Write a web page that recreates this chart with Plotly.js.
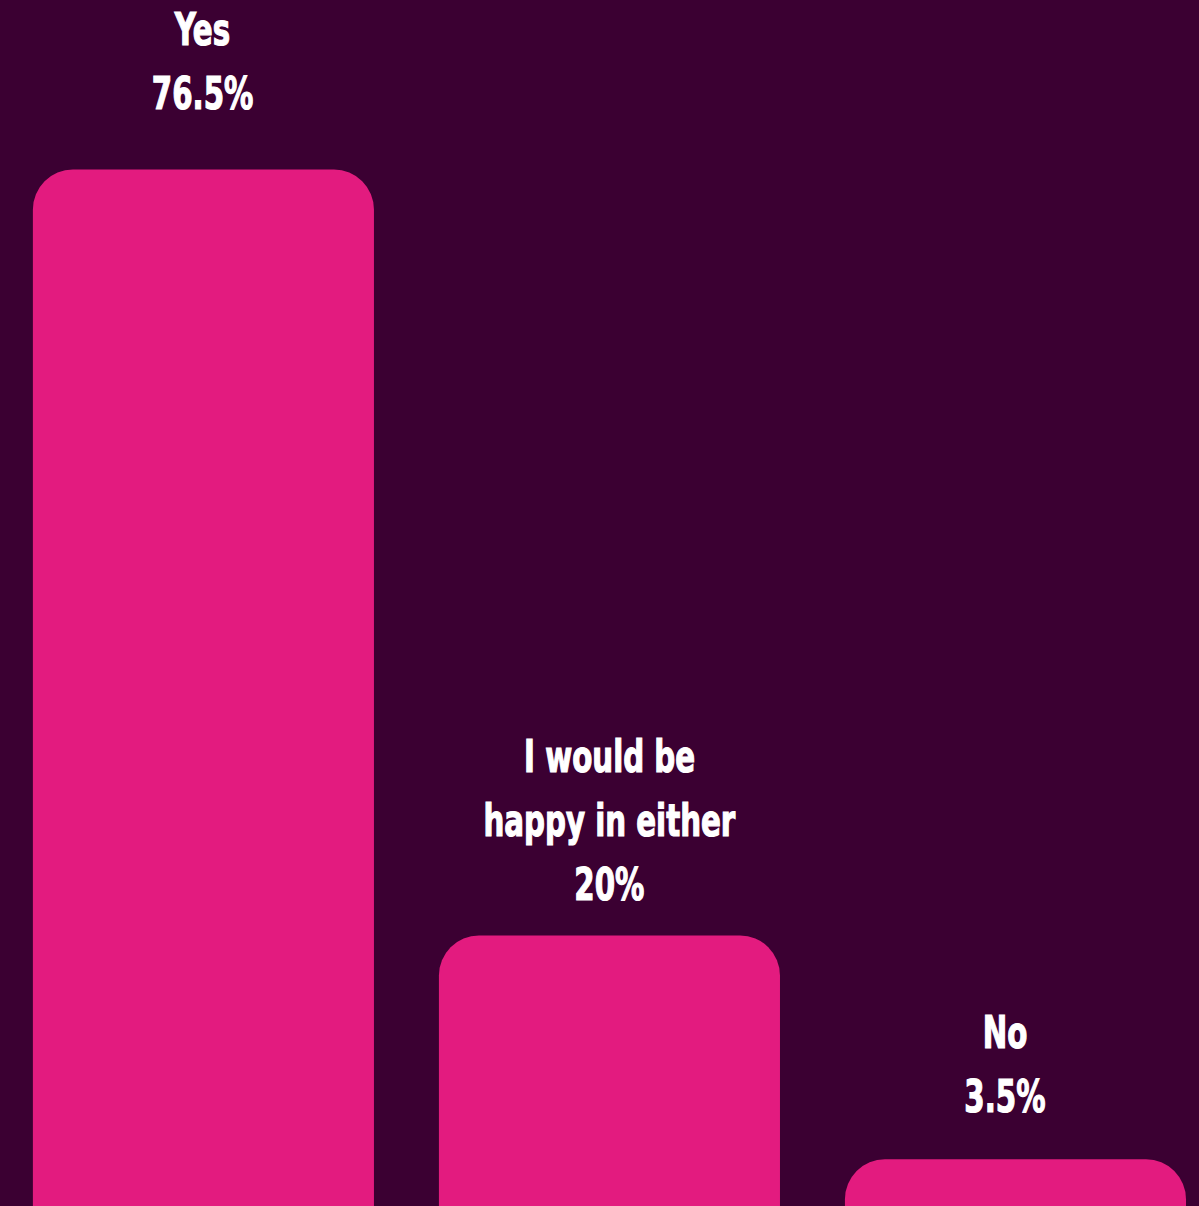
<!DOCTYPE html>
<html>
<head>
<meta charset="utf-8">
<script src="https://cdn.plot.ly/plotly-3.0.1.min.js"></script>
<style>
  html, body { margin: 0; padding: 0; background: #3b0032; }
  #chart { width: 1199px; height: 1206px; }
</style>
</head>
<body>
<div id="chart"></div>
<script>
// Data
const categories = ['Yes', 'I would be happy in either', 'No'];
const labelLines = [['Yes'], ['I would be', 'happy in either'], ['No']];
const values = [76.5, 20, 3.5];
const valueText = ['76.5%', '20%', '3.5%'];

// Styles
const bgColor = '#3b0032';
const barColor = '#e31b7f';
const fontFamily = '"DejaVu Sans Condensed", "Liberation Sans Narrow", "Arial Narrow", sans-serif';
const fontSize = 44;
const textScaleX = 0.74;          // horizontal compression to mimic a condensed display face
const textStroke = 1.2;           // extra weight
const lineStep = 64;              // px between label baselines
const labelGap = [59, 35, 46];    // px from bar top to last label baseline
const labelXShift = [-1, 0, -10];
const descentPad = 10;

const annotations = [];
categories.forEach((cat, i) => {
  const lines = labelLines[i].concat([valueText[i]]);
  const n = lines.length;
  lines.forEach((ln, j) => {
    annotations.push({
      x: cat,
      y: values[i],
      xref: 'x', yref: 'y',
      text: '<b>' + ln + '</b>',
      showarrow: false,
      xanchor: 'center',
      yanchor: 'bottom',
      xshift: labelXShift[i],
      yshift: labelGap[i] + (n - 1 - j) * lineStep - descentPad,
      borderpad: 0,
      font: { family: fontFamily, size: fontSize, color: '#ffffff' }
    });
  });
});

const trace = {
  type: 'bar',
  x: categories,
  y: values,
  marker: { color: barColor, line: { width: 0 } },
  hoverinfo: 'none'
};

const layout = {
  width: 1199,
  height: 1206,
  margin: { l: 0, r: 0, t: 0, b: 0, pad: 0 },
  paper_bgcolor: bgColor,
  plot_bgcolor: bgColor,
  bargap: 0.16,
  barcornerradius: 40,
  showlegend: false,
  xaxis: { type: 'category', range: [-0.501, 2.452], visible: false, fixedrange: true },
  yaxis: { range: [0.05, 89.0], visible: false, fixedrange: true },
  annotations: annotations
};

Plotly.newPlot('chart', [trace], layout, { displayModeBar: false, staticPlot: true }).then(() => {
  document.querySelectorAll('#chart text.annotation-text').forEach(t => {
    const b = t.getBBox();
    const cx = b.x + b.width / 2;
    t.setAttribute('transform', `translate(${cx},0) scale(${textScaleX},1) translate(${-cx},0)`);
    t.style.stroke = '#ffffff';
    t.style.strokeWidth = textStroke + 'px';
  });
});
</script>
</body>
</html>
